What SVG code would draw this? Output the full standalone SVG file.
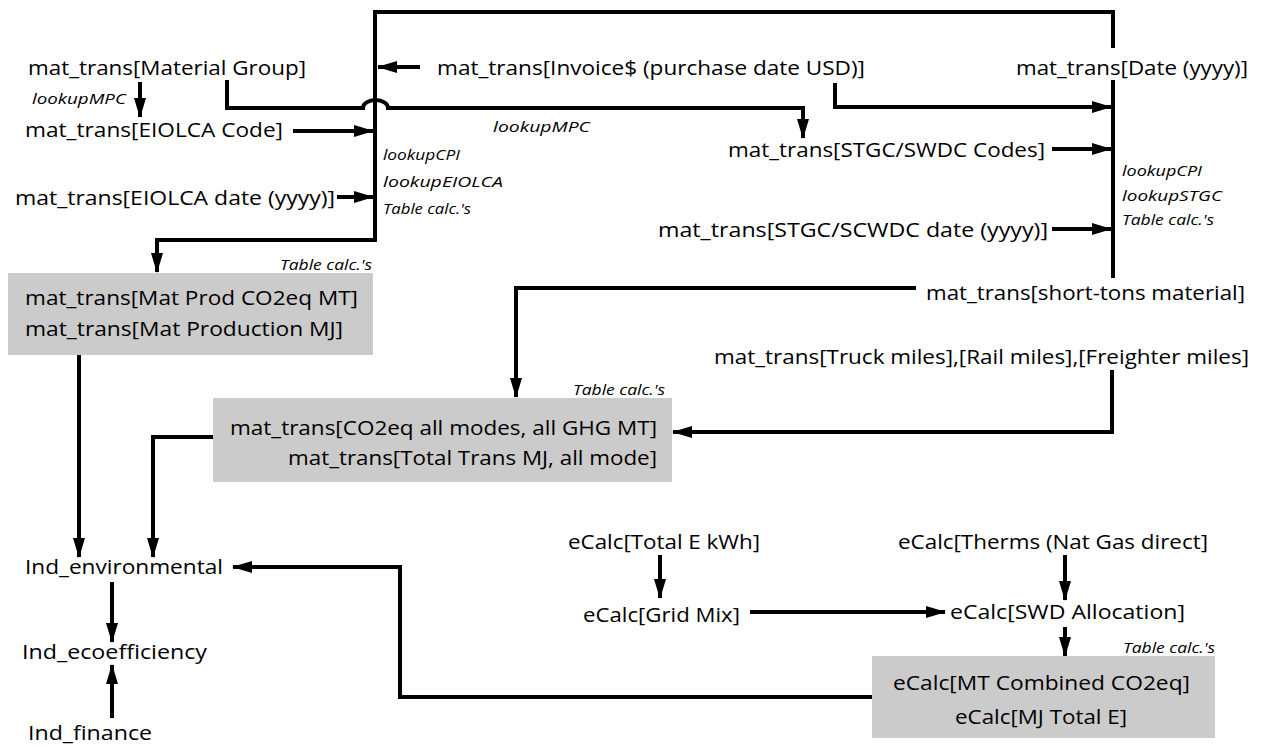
<svg xmlns="http://www.w3.org/2000/svg" width="1266" height="747" viewBox="0 0 1266 747">
<style>
.t{font-family:"Open Sans","Liberation Sans",sans-serif;font-size:20px;fill:#000}
.i{font-family:"Open Sans","Liberation Sans",sans-serif;font-size:15px;font-style:italic;fill:#000}
.c{fill:none;stroke:#000;stroke-width:4}
.box{fill:#cbcbcb}
</style>
<defs>
<marker id="ah" viewBox="0 0 20 12" refX="19" refY="6" markerWidth="20" markerHeight="12" markerUnits="userSpaceOnUse" orient="auto"><path d="M0,0 L20,6 L0,12 Z" fill="#000"/></marker>
</defs>
<rect width="1266" height="747" fill="#fff"/>
<g id="connectors">
<path class="c" d="M1113,48 V12 H375 V240 H157 V272" marker-end="url(#ah)"/>
<path class="c" d="M1113,80 V278"/>
<path class="c" stroke-width="3" d="M140,82 V117" marker-end="url(#ah)"/>
<path class="c" d="M293,131 H373" marker-end="url(#ah)"/>
<path class="c" d="M337,197 H373" marker-end="url(#ah)"/>
<path class="c" d="M420,67 H378" marker-end="url(#ah)"/>
<path class="c" d="M227,80 V108 H363 A12.5,8 0 0 1 388,108 H803 V138" marker-end="url(#ah)"/>
<path class="c" d="M835,83 V107 H1111" marker-end="url(#ah)"/>
<path class="c" d="M1052,149 H1111" marker-end="url(#ah)"/>
<path class="c" stroke-width="5" d="M1052,229 H1111" marker-end="url(#ah)"/>
<path class="c" d="M916,288 H516 V397" marker-end="url(#ah)"/>
<path class="c" d="M1112,370 V432 H673" marker-end="url(#ah)"/>
<path class="c" d="M79,355 V557" marker-end="url(#ah)"/>
<path class="c" d="M213,437 H153 V557" marker-end="url(#ah)"/>
<path class="c" d="M112,582 V642" marker-end="url(#ah)"/>
<path class="c" d="M112,718 V665" marker-end="url(#ah)"/>
<path class="c" d="M872,697 H400 V567 H233" marker-end="url(#ah)"/>
<path class="c" stroke-width="3" d="M660,555 V598" marker-end="url(#ah)"/>
<path class="c" stroke-width="6" d="M750,612 H945" marker-end="url(#ah)"/>
<path class="c" d="M1065,555 V600" marker-end="url(#ah)"/>
<path class="c" d="M1065,627 V656" marker-end="url(#ah)"/>
</g>
<g id="n_material_group"><text class="t" x="28" y="75" textLength="278" lengthAdjust="spacingAndGlyphs">mat_trans[Material Group]</text></g>
<g id="l_lookupmpc1"><text class="i" x="32" y="104" textLength="94" lengthAdjust="spacingAndGlyphs">lookupMPC</text></g>
<g id="n_eiolca_code"><text class="t" x="25" y="137" textLength="258" lengthAdjust="spacingAndGlyphs">mat_trans[EIOLCA Code]</text></g>
<g id="n_eiolca_date"><text class="t" x="15" y="205" textLength="320" lengthAdjust="spacingAndGlyphs">mat_trans[EIOLCA date (yyyy)]</text></g>
<g id="l_left_calcs">
<text class="i" x="383" y="160" textLength="77" lengthAdjust="spacingAndGlyphs">lookupCPI</text>
<text class="i" x="383" y="187" textLength="120" lengthAdjust="spacingAndGlyphs">lookupEIOLCA</text>
<text class="i" x="383" y="214" textLength="88" lengthAdjust="spacingAndGlyphs">Table calc.'s</text>
</g>
<g id="l_lookupmpc2"><text class="i" x="493" y="132" textLength="97" lengthAdjust="spacingAndGlyphs">lookupMPC</text></g>
<g id="n_invoice"><text class="t" x="437" y="75" textLength="428" lengthAdjust="spacingAndGlyphs">mat_trans[Invoice$ (purchase date USD)]</text></g>
<g id="n_date"><text class="t" x="1016" y="75" textLength="232" lengthAdjust="spacingAndGlyphs">mat_trans[Date (yyyy)]</text></g>
<g id="n_stgc_codes"><text class="t" x="728" y="157" textLength="317" lengthAdjust="spacingAndGlyphs">mat_trans[STGC/SWDC Codes]</text></g>
<g id="l_right_calcs">
<text class="i" x="1122" y="176" textLength="80" lengthAdjust="spacingAndGlyphs">lookupCPI</text>
<text class="i" x="1122" y="201" textLength="100" lengthAdjust="spacingAndGlyphs">lookupSTGC</text>
<text class="i" x="1122" y="225" textLength="92" lengthAdjust="spacingAndGlyphs">Table calc.'s</text>
</g>
<g id="n_stgc_date"><text class="t" x="658" y="237" textLength="390" lengthAdjust="spacingAndGlyphs">mat_trans[STGC/SCWDC date (yyyy)]</text></g>
<g id="n_short_tons"><text class="t" x="926" y="300" textLength="319" lengthAdjust="spacingAndGlyphs">mat_trans[short-tons material]</text></g>
<g id="n_truck"><text class="t" x="714" y="364" textLength="535" lengthAdjust="spacingAndGlyphs">mat_trans[Truck miles],[Rail miles],[Freighter miles]</text></g>
<g id="n_matprod">
<rect class="box" x="8" y="273" width="365" height="82"/>
<text class="i" x="280" y="270" textLength="92" lengthAdjust="spacingAndGlyphs">Table calc.'s</text>
<text class="t" x="25" y="305" textLength="333" lengthAdjust="spacingAndGlyphs">mat_trans[Mat Prod CO2eq MT]</text>
<text class="t" x="25" y="336" textLength="318" lengthAdjust="spacingAndGlyphs">mat_trans[Mat Production MJ]</text>
</g>
<g id="n_trans">
<rect class="box" x="213" y="398" width="459" height="84"/>
<text class="i" x="573" y="395" textLength="92" lengthAdjust="spacingAndGlyphs">Table calc.'s</text>
<text class="t" x="230" y="435" textLength="427" lengthAdjust="spacingAndGlyphs">mat_trans[CO2eq all modes, all GHG MT]</text>
<text class="t" x="288" y="465" textLength="369" lengthAdjust="spacingAndGlyphs">mat_trans[Total Trans MJ, all mode]</text>
</g>
<g id="n_ind_env"><text class="t" x="25" y="574" textLength="198" lengthAdjust="spacingAndGlyphs">Ind_environmental</text></g>
<g id="n_ind_eco"><text class="t" x="22" y="659" textLength="185" lengthAdjust="spacingAndGlyphs">Ind_ecoefficiency</text></g>
<g id="n_ind_fin"><text class="t" x="28" y="740" textLength="124" lengthAdjust="spacingAndGlyphs">Ind_finance</text></g>
<g id="n_total_e"><text class="t" x="568" y="549" textLength="192" lengthAdjust="spacingAndGlyphs">eCalc[Total E kWh]</text></g>
<g id="n_grid_mix"><text class="t" x="583" y="622" textLength="157" lengthAdjust="spacingAndGlyphs">eCalc[Grid Mix]</text></g>
<g id="n_therms"><text class="t" x="898" y="549" textLength="310" lengthAdjust="spacingAndGlyphs">eCalc[Therms (Nat Gas direct]</text></g>
<g id="n_swd"><text class="t" x="950" y="619" textLength="235" lengthAdjust="spacingAndGlyphs">eCalc[SWD Allocation]</text></g>
<g id="n_ecalc_out">
<rect class="box" x="872" y="656" width="343" height="82"/>
<text class="i" x="1123" y="653" textLength="92" lengthAdjust="spacingAndGlyphs">Table calc.'s</text>
<text class="t" x="893" y="690" textLength="297" lengthAdjust="spacingAndGlyphs">eCalc[MT Combined CO2eq]</text>
<text class="t" x="955" y="724" textLength="172" lengthAdjust="spacingAndGlyphs">eCalc[MJ Total E]</text>
</g>
</svg>
